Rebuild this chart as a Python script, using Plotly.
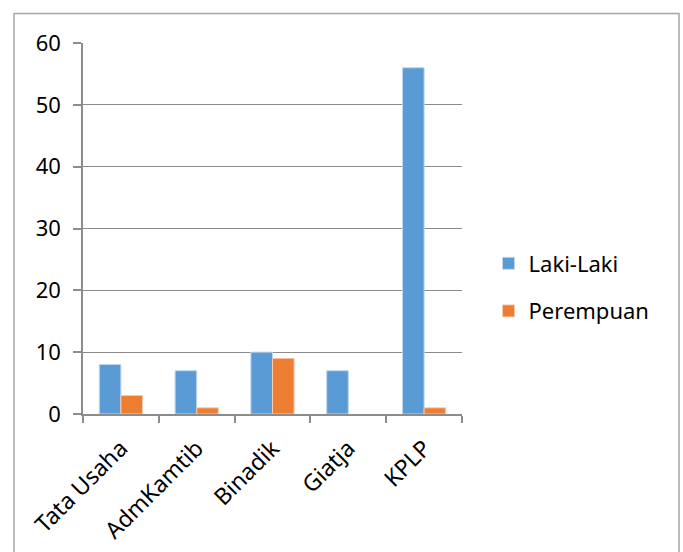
import plotly.graph_objects as go

categories = ["Tata Usaha", "AdmKamtib", "Binadik", "Giatja", "KPLP"]
laki = [8, 7, 10, 7, 56]
perempuan = [3, 1, 9, 0, 1]
y_ticks = [0, 10, 20, 30, 40, 50, 60]

FONT = "Noto Sans"
GRAY = "#8c8c8c"
FS = 22

fig = go.Figure()
fig.add_trace(go.Bar(x=categories, y=laki, name="Laki-Laki", marker_color="#5B9BD5",
                     marker_line=dict(color="#bdd7ee", width=[1 if v > 0 else 0 for v in laki]),
                     legendgroup="a"))
fig.add_trace(go.Bar(x=categories, y=perempuan, name="Perempuan", marker_color="#ED7D31",
                     marker_line=dict(color="#f8cbad", width=[1 if v > 0 else 0 for v in perempuan]),
                     legendgroup="b"))

fig.update_layout(
    width=683, height=552,
    margin=dict(l=83, r=221, t=43, b=138, autoexpand=False),
    paper_bgcolor="white", plot_bgcolor="white",
    barmode="group", bargap=0.43, bargroupgap=0,
    font=dict(family=FONT, size=FS, color="black"),
    showlegend=True,
    legend=dict(x=1.07, xanchor="left", y=0.341, yanchor="middle",
                font=dict(family=FONT, size=FS, color="black"),
                tracegroupgap=16, traceorder="grouped",
                bgcolor="rgba(0,0,0,0)"),
    xaxis=dict(showline=True, linecolor=GRAY, linewidth=1.5, automargin=False,
               ticks="outside", tickson="boundaries", ticklen=7, tickcolor=GRAY,
               tickwidth=1.5, tickangle=-45, showgrid=False,
               ticklabelstandoff=10,
               tickfont=dict(family=FONT, size=23, color="black")),
    yaxis=dict(range=[0, 60], tickvals=y_ticks, showline=True, linecolor=GRAY, linewidth=1.5,
               automargin=False,
               ticks="outside", ticklen=8, tickcolor=GRAY, tickwidth=1.5,
               ticklabelstandoff=8,
               showgrid=True, gridcolor=GRAY, gridwidth=1, zeroline=False,
               tickfont=dict(family=FONT, size=FS, color="black")),
    shapes=[dict(type="rect", xref="paper", yref="paper",
                 x0=-0.182, x1=1.5726, y0=-0.45, y1=1.0795,
                 line=dict(color="#a6a6a6", width=1.5), fillcolor="rgba(0,0,0,0)",
                 layer="below")],
)

fig.write_html("out.html")
